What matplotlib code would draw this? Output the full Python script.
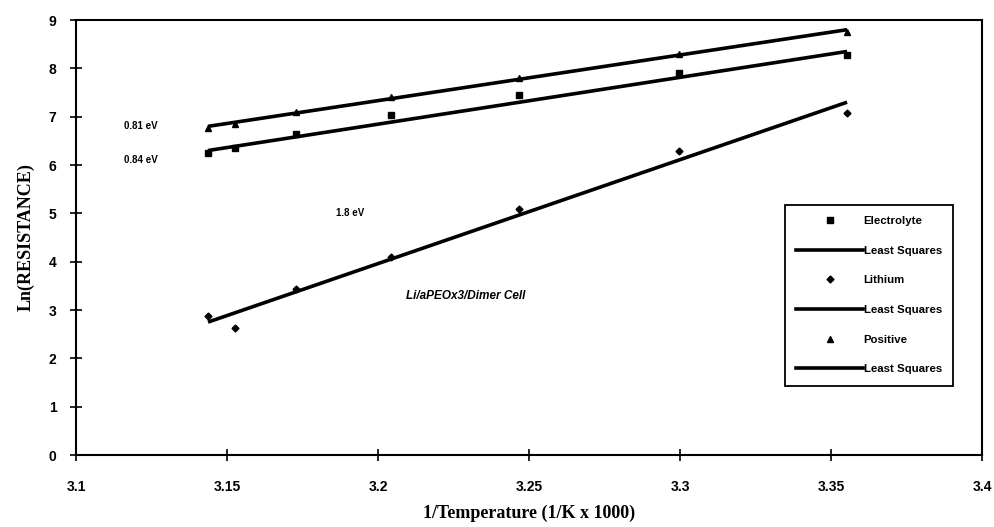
import matplotlib
matplotlib.use("Agg")
import matplotlib.pyplot as plt
from matplotlib.lines import Line2D

# Data
temp_x = [3.1437, 3.1527, 3.1729, 3.2043, 3.2467, 3.2997, 3.3553]
electrolyte = [6.25, 6.35, 6.65, 7.03, 7.45, 7.90, 8.27]
lithium = [2.88, 2.63, 3.43, 4.10, 5.09, 6.29, 7.08]
positive = [6.77, 6.85, 7.10, 7.40, 7.80, 8.30, 8.75]

fit_x = [3.1437, 3.3553]
fit_electrolyte = [6.30, 8.35]
fit_lithium = [2.75, 7.30]
fit_positive = [6.80, 8.80]

x_ticks = [3.1, 3.15, 3.2, 3.25, 3.3, 3.35, 3.4]
y_ticks = [0, 1, 2, 3, 4, 5, 6, 7, 8, 9]

fig = plt.figure(figsize=(9.94, 5.27), dpi=100)
ax = fig.add_axes([0.0765, 0.1366, 0.9115, 0.8254])

lw = 2.6
ax.plot(fit_x, fit_electrolyte, color="black", lw=lw, solid_capstyle="butt")
ax.plot(fit_x, fit_lithium, color="black", lw=lw, solid_capstyle="butt")
ax.plot(fit_x, fit_positive, color="black", lw=lw, solid_capstyle="butt")
ax.plot(temp_x, electrolyte, ls="none", marker="s", ms=4, color="black")
ax.plot(temp_x, lithium, ls="none", marker="D", ms=3.5, color="black")
ax.plot(temp_x, positive, ls="none", marker="^", ms=4, color="black")

ax.set_xlim(3.1, 3.4)
ax.set_ylim(0, 9)
ax.set_xticks(x_ticks)
ax.set_xticklabels([f"{v:g}" for v in x_ticks])
ax.set_yticks(y_ticks)
ax.tick_params(direction="inout", length=8, width=1.2, labelsize=10)
ax.tick_params(axis="x", pad=14)
ax.tick_params(axis="y", pad=10)
for lab in ax.get_xticklabels() + ax.get_yticklabels():
    lab.set_fontfamily("Liberation Sans")
    lab.set_fontweight("bold")
for s in ax.spines.values():
    s.set_linewidth(1.5)

ax.set_xlabel("1/Temperature (1/K x 1000)", fontfamily="Liberation Serif",
              fontweight="bold", fontsize=13, labelpad=8)
ax.set_ylabel("Ln(RESISTANCE)", fontfamily="Liberation Serif",
              fontweight="bold", fontsize=13, labelpad=10)

ann = dict(fontfamily="Liberation Sans", fontweight="bold", fontsize=7,
           ha="center", va="center")
ax.text(3.1215, 6.8, "0.81 eV", **ann)
ax.text(3.1215, 6.1, "0.84 eV", **ann)
ax.text(3.1908, 5.0, "1.8 eV", **ann)
ax.text(3.229, 3.3, "Li/aPEOx3/Dimer Cell", fontfamily="Liberation Sans",
        fontweight="bold", fontstyle="italic", fontsize=8.5, ha="center", va="center")

handles = [
    Line2D([], [], ls="none", marker="s", ms=4, color="black"),
    Line2D([], [], color="black", lw=lw),
    Line2D([], [], ls="none", marker="D", ms=3.5, color="black"),
    Line2D([], [], color="black", lw=lw),
    Line2D([], [], ls="none", marker="^", ms=4, color="black"),
    Line2D([], [], color="black", lw=lw),
]
labels = ["Electrolyte", "Least Squares", "Lithium", "Least Squares", "Positive", "Least Squares"]
leg = ax.legend(handles, labels, loc="upper left", bbox_to_anchor=(0.7826, 0.575),
                prop={"family": "Liberation Sans", "weight": "bold", "size": 8.2},
                handlelength=5.8, handletextpad=0.1, labelspacing=1.72,
                borderpad=1.0, frameon=True, fancybox=False, framealpha=1,
                edgecolor="black", borderaxespad=0)
leg.get_frame().set_linewidth(1.3)

fig.savefig("out.png", dpi=100)
